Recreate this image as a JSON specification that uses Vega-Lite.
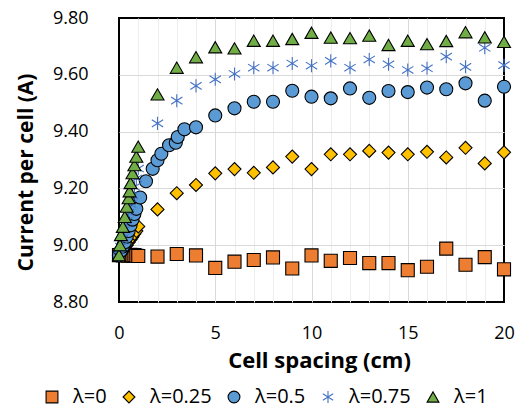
{
  "$schema": "https://vega.github.io/schema/vega-lite/v6.json",
  "width": 385,
  "height": 284,
  "autosize": "none",
  "padding": {"left": 119, "top": 18, "right": 17, "bottom": 108},
  "background": "white",
  "config": {"view": {"stroke": "#000", "strokeWidth": 2}, "font": "Open Sans"},
  "data": {"values": [
    {"x": 0, "y": 8.965, "lam": "λ=0"}, {"x": 0.1, "y": 8.966, "lam": "λ=0"}, {"x": 0.2, "y": 8.964, "lam": "λ=0"}, {"x": 0.3, "y": 8.966, "lam": "λ=0"}, {"x": 0.4, "y": 8.965, "lam": "λ=0"}, {"x": 0.5, "y": 8.963, "lam": "λ=0"}, {"x": 0.6, "y": 8.966, "lam": "λ=0"}, {"x": 0.7, "y": 8.964, "lam": "λ=0"}, {"x": 0.8, "y": 8.965, "lam": "λ=0"}, {"x": 0.9, "y": 8.963, "lam": "λ=0"},
    {"x": 1, "y": 8.962, "lam": "λ=0"}, {"x": 2, "y": 8.96, "lam": "λ=0"}, {"x": 3, "y": 8.969, "lam": "λ=0"}, {"x": 4, "y": 8.964, "lam": "λ=0"}, {"x": 5, "y": 8.92, "lam": "λ=0"}, {"x": 6, "y": 8.942, "lam": "λ=0"}, {"x": 7, "y": 8.948, "lam": "λ=0"}, {"x": 8, "y": 8.957, "lam": "λ=0"}, {"x": 9, "y": 8.918, "lam": "λ=0"}, {"x": 10, "y": 8.964, "lam": "λ=0"}, {"x": 11, "y": 8.945, "lam": "λ=0"}, {"x": 12, "y": 8.955, "lam": "λ=0"}, {"x": 13, "y": 8.937, "lam": "λ=0"}, {"x": 14, "y": 8.937, "lam": "λ=0"}, {"x": 15, "y": 8.912, "lam": "λ=0"}, {"x": 16, "y": 8.924, "lam": "λ=0"}, {"x": 17, "y": 8.988, "lam": "λ=0"}, {"x": 18, "y": 8.931, "lam": "λ=0"}, {"x": 19, "y": 8.958, "lam": "λ=0"}, {"x": 20, "y": 8.915, "lam": "λ=0"},

    {"x": 0, "y": 8.965, "lam": "λ=0.25"}, {"x": 0.1, "y": 8.972, "lam": "λ=0.25"}, {"x": 0.2, "y": 8.98, "lam": "λ=0.25"}, {"x": 0.3, "y": 8.99, "lam": "λ=0.25"}, {"x": 0.4, "y": 9.0, "lam": "λ=0.25"}, {"x": 0.5, "y": 9.01, "lam": "λ=0.25"}, {"x": 0.6, "y": 9.02, "lam": "λ=0.25"}, {"x": 0.7, "y": 9.03, "lam": "λ=0.25"}, {"x": 0.8, "y": 9.04, "lam": "λ=0.25"}, {"x": 0.9, "y": 9.05, "lam": "λ=0.25"},
    {"x": 1, "y": 9.066, "lam": "λ=0.25"}, {"x": 2, "y": 9.126, "lam": "λ=0.25"}, {"x": 3, "y": 9.183, "lam": "λ=0.25"}, {"x": 4, "y": 9.212, "lam": "λ=0.25"}, {"x": 5, "y": 9.253, "lam": "λ=0.25"}, {"x": 6, "y": 9.268, "lam": "λ=0.25"}, {"x": 7, "y": 9.255, "lam": "λ=0.25"}, {"x": 8, "y": 9.274, "lam": "λ=0.25"}, {"x": 9, "y": 9.312, "lam": "λ=0.25"}, {"x": 10, "y": 9.268, "lam": "λ=0.25"}, {"x": 11, "y": 9.32, "lam": "λ=0.25"}, {"x": 12, "y": 9.32, "lam": "λ=0.25"}, {"x": 13, "y": 9.332, "lam": "λ=0.25"}, {"x": 14, "y": 9.326, "lam": "λ=0.25"}, {"x": 15, "y": 9.32, "lam": "λ=0.25"}, {"x": 16, "y": 9.329, "lam": "λ=0.25"}, {"x": 17, "y": 9.309, "lam": "λ=0.25"}, {"x": 18, "y": 9.343, "lam": "λ=0.25"}, {"x": 19, "y": 9.288, "lam": "λ=0.25"}, {"x": 20, "y": 9.327, "lam": "λ=0.25"},

    {"x": 0, "y": 8.965, "lam": "λ=0.5"}, {"x": 0.1, "y": 8.98, "lam": "λ=0.5"}, {"x": 0.2, "y": 8.995, "lam": "λ=0.5"}, {"x": 0.3, "y": 9.01, "lam": "λ=0.5"}, {"x": 0.4, "y": 9.03, "lam": "λ=0.5"}, {"x": 0.5, "y": 9.05, "lam": "λ=0.5"}, {"x": 0.6, "y": 9.07, "lam": "λ=0.5"}, {"x": 0.7, "y": 9.09, "lam": "λ=0.5"}, {"x": 0.8, "y": 9.11, "lam": "λ=0.5"}, {"x": 0.9, "y": 9.128, "lam": "λ=0.5"},
    {"x": 1.1, "y": 9.168, "lam": "λ=0.5"}, {"x": 1.4, "y": 9.225, "lam": "λ=0.5"}, {"x": 1.75, "y": 9.269, "lam": "λ=0.5"}, {"x": 2.0, "y": 9.299, "lam": "λ=0.5"}, {"x": 2.2, "y": 9.322, "lam": "λ=0.5"}, {"x": 2.6, "y": 9.352, "lam": "λ=0.5"}, {"x": 2.95, "y": 9.361, "lam": "λ=0.5"}, {"x": 3.05, "y": 9.381, "lam": "λ=0.5"}, {"x": 3.4, "y": 9.408, "lam": "λ=0.5"}, {"x": 4, "y": 9.415, "lam": "λ=0.5"},
    {"x": 5, "y": 9.457, "lam": "λ=0.5"}, {"x": 6, "y": 9.482, "lam": "λ=0.5"}, {"x": 7, "y": 9.505, "lam": "λ=0.5"}, {"x": 8, "y": 9.505, "lam": "λ=0.5"}, {"x": 9, "y": 9.544, "lam": "λ=0.5"}, {"x": 10, "y": 9.523, "lam": "λ=0.5"}, {"x": 11, "y": 9.517, "lam": "λ=0.5"}, {"x": 12, "y": 9.552, "lam": "λ=0.5"}, {"x": 13, "y": 9.519, "lam": "λ=0.5"}, {"x": 14, "y": 9.543, "lam": "λ=0.5"}, {"x": 15, "y": 9.539, "lam": "λ=0.5"}, {"x": 16, "y": 9.555, "lam": "λ=0.5"}, {"x": 17, "y": 9.549, "lam": "λ=0.5"}, {"x": 18, "y": 9.57, "lam": "λ=0.5"}, {"x": 19, "y": 9.509, "lam": "λ=0.5"}, {"x": 20, "y": 9.558, "lam": "λ=0.5"},

    {"x": 0, "y": 8.965, "lam": "λ=0.75"}, {"x": 0.1, "y": 8.995, "lam": "λ=0.75"}, {"x": 0.2, "y": 9.025, "lam": "λ=0.75"}, {"x": 0.3, "y": 9.055, "lam": "λ=0.75"}, {"x": 0.4, "y": 9.085, "lam": "λ=0.75"}, {"x": 0.5, "y": 9.115, "lam": "λ=0.75"}, {"x": 0.6, "y": 9.145, "lam": "λ=0.75"}, {"x": 0.7, "y": 9.175, "lam": "λ=0.75"}, {"x": 0.8, "y": 9.205, "lam": "λ=0.75"}, {"x": 0.9, "y": 9.235, "lam": "λ=0.75"}, {"x": 1.0, "y": 9.27, "lam": "λ=0.75"},
    {"x": 2, "y": 9.429, "lam": "λ=0.75"}, {"x": 3, "y": 9.509, "lam": "λ=0.75"}, {"x": 4, "y": 9.561, "lam": "λ=0.75"}, {"x": 5, "y": 9.584, "lam": "λ=0.75"}, {"x": 6, "y": 9.603, "lam": "λ=0.75"}, {"x": 7, "y": 9.625, "lam": "λ=0.75"}, {"x": 8, "y": 9.625, "lam": "λ=0.75"}, {"x": 9, "y": 9.64, "lam": "λ=0.75"}, {"x": 10, "y": 9.632, "lam": "λ=0.75"}, {"x": 11, "y": 9.649, "lam": "λ=0.75"}, {"x": 12, "y": 9.625, "lam": "λ=0.75"}, {"x": 13, "y": 9.654, "lam": "λ=0.75"}, {"x": 14, "y": 9.637, "lam": "λ=0.75"}, {"x": 15, "y": 9.617, "lam": "λ=0.75"}, {"x": 16, "y": 9.623, "lam": "λ=0.75"}, {"x": 17, "y": 9.664, "lam": "λ=0.75"}, {"x": 18, "y": 9.628, "lam": "λ=0.75"}, {"x": 19, "y": 9.695, "lam": "λ=0.75"}, {"x": 20, "y": 9.634, "lam": "λ=0.75"},

    {"x": 0, "y": 8.965, "lam": "λ=1"}, {"x": 0.05, "y": 9.0, "lam": "λ=1"}, {"x": 0.1, "y": 9.036, "lam": "λ=1"}, {"x": 0.2, "y": 9.065, "lam": "λ=1"}, {"x": 0.3, "y": 9.1, "lam": "λ=1"}, {"x": 0.4, "y": 9.136, "lam": "λ=1"}, {"x": 0.5, "y": 9.166, "lam": "λ=1"}, {"x": 0.55, "y": 9.19, "lam": "λ=1"}, {"x": 0.6, "y": 9.219, "lam": "λ=1"}, {"x": 0.7, "y": 9.254, "lam": "λ=1"}, {"x": 0.8, "y": 9.282, "lam": "λ=1"}, {"x": 0.9, "y": 9.312, "lam": "λ=1"}, {"x": 1.0, "y": 9.347, "lam": "λ=1"},
    {"x": 2, "y": 9.531, "lam": "λ=1"}, {"x": 3, "y": 9.625, "lam": "λ=1"}, {"x": 4, "y": 9.662, "lam": "λ=1"}, {"x": 5, "y": 9.697, "lam": "λ=1"}, {"x": 6, "y": 9.693, "lam": "λ=1"}, {"x": 7, "y": 9.72, "lam": "λ=1"}, {"x": 8, "y": 9.72, "lam": "λ=1"}, {"x": 9, "y": 9.726, "lam": "λ=1"}, {"x": 10, "y": 9.748, "lam": "λ=1"}, {"x": 11, "y": 9.731, "lam": "λ=1"}, {"x": 12, "y": 9.729, "lam": "λ=1"}, {"x": 13, "y": 9.738, "lam": "λ=1"}, {"x": 14, "y": 9.705, "lam": "λ=1"}, {"x": 15, "y": 9.72, "lam": "λ=1"}, {"x": 16, "y": 9.708, "lam": "λ=1"}, {"x": 17, "y": 9.719, "lam": "λ=1"}, {"x": 18, "y": 9.75, "lam": "λ=1"}, {"x": 19, "y": 9.732, "lam": "λ=1"}, {"x": 20, "y": 9.716, "lam": "λ=1"}
  ]},
  "mark": {"type": "point", "filled": true, "opacity": 1, "size": 170, "strokeWidth": 1.1},
  "encoding": {
    "x": {
      "field": "x", "type": "quantitative",
      "scale": {"domain": [0, 20], "nice": false, "zero": false},
      "axis": {
        "values": [0, 1, 2, 3, 4, 5, 6, 7, 8, 9, 10, 11, 12, 13, 14, 15, 16, 17, 18, 19, 20],
        "labelExpr": "datum.value % 5 === 0 ? datum.label : ''",
        "labelOverlap": false, "labelFlush": false,
        "grid": true,
        "gridColor": {"condition": {"test": "datum.value % 5 === 0", "value": "#D9D9D9"}, "value": "#EDEDED"},
        "gridOpacity": {"condition": {"test": "datum.value === 0 || datum.value === 20", "value": 0}, "value": 1},
        "gridWidth": 1,
        "domain": false, "ticks": false, "tickSize": 0,
        "labelPadding": 22, "labelFontSize": 18, "labelColor": "#000", "labelFont": "Open Sans",
        "title": "Cell spacing (cm)", "titleFontSize": 22, "titleFontWeight": "bold", "titleColor": "#000", "titleFont": "Open Sans",
        "titleX": 200, "titleY": 58, "titleBaseline": "middle", "titleAlign": "center"
      }
    },
    "y": {
      "field": "y", "type": "quantitative",
      "scale": {"domain": [8.8, 9.8], "nice": false, "zero": false},
      "axis": {
        "values": [8.8, 9.0, 9.2, 9.4, 9.6, 9.8],
        "format": ".2f",
        "grid": true, "gridColor": "#D9D9D9", "gridWidth": 1,
        "gridOpacity": {"condition": {"test": "datum.value > 9.79 || datum.value < 8.81", "value": 0}, "value": 1},
        "domain": false, "ticks": false, "tickSize": 0,
        "labelPadding": 31, "labelFontSize": 18, "labelColor": "#000", "labelFont": "Open Sans",
        "title": "Current per cell (A)", "titleFontSize": 21, "titleFontWeight": "bold", "titleColor": "#000", "titleFont": "Open Sans",
        "titleX": -93, "titleY": 154, "titleAngle": 270, "titleBaseline": "middle", "titleAlign": "center"
      }
    },
    "fill": {
      "field": "lam", "type": "nominal",
      "scale": {"domain": ["λ=0", "λ=0.25", "λ=0.5", "λ=0.75", "λ=1"], "range": ["#ED7D31", "#FFC000", "#5B9BD5", "#4472C4", "#70AD47"]},
      "legend": {
        "orient": "none", "legendX": -77, "legendY": 369, "direction": "horizontal", "title": null,
        "labelFontSize": 20, "labelColor": "#000", "labelFont": "Open Sans",
        "symbolSize": 140, "labelOffset": 11, "columnPadding": 12, "symbolStrokeWidth": 1.1, "padding": 0
      }
    },
    "stroke": {
      "field": "lam", "type": "nominal",
      "scale": {"domain": ["λ=0", "λ=0.25", "λ=0.5", "λ=0.75", "λ=1"], "range": ["#000000", "#000000", "#000000", "#4472C4", "#000000"]}
    },
    "shape": {
      "field": "lam", "type": "nominal",
      "scale": {"domain": ["λ=0", "λ=0.25", "λ=0.5", "λ=0.75", "λ=1"], "range": ["square", "diamond", "circle", "M0,-1L0,1M-0.87,-0.55L0.87,0.55M-0.87,0.55L0.87,-0.55", "triangle-up"]}
    }
  }
}
